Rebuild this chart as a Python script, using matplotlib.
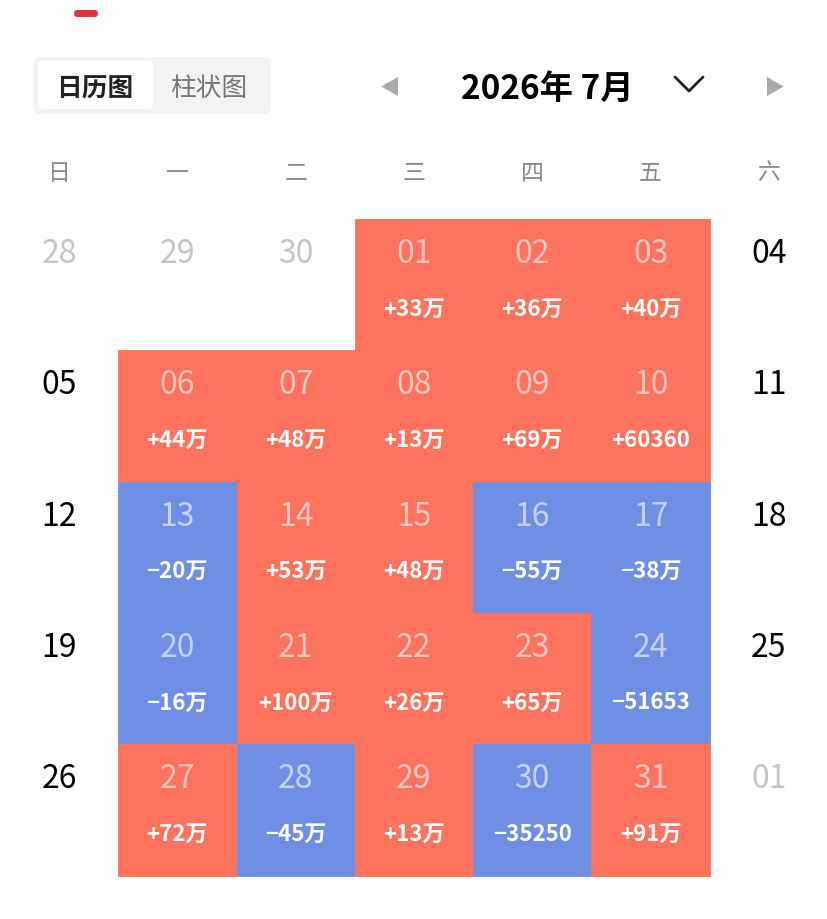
import calendar
import matplotlib.pyplot as plt
from matplotlib.patches import Rectangle, FancyBboxPatch

plt.rcParams['font.family'] = ['Noto Sans CJK SC', 'DejaVu Sans']

# ---------------------------- DATOS ----------------------------
year, month = 2026, 7
weekdays = ['日', '一', '二', '三', '四', '五', '六']
title = '2026年 7月'
tabs = ['日历图', '柱状图']
# valor diario (None = sin dato, fin de semana)
values = [330000, 360000, 400000, None, None,
          440000, 480000, 130000, 690000, 60360, None,
          None, -200000, 530000, 480000, -550000, -380000, None,
          None, -160000, 1000000, 260000, 650000, -51653, None,
          None, 720000, -450000, 130000, -35250, 910000]

RED = '#fe735e'
BLUE = '#6e8fe3'


def fmt(v):
    s = '+' if v > 0 else '\u2212'
    a = abs(v)
    if a >= 100000:
        return s + '%d万' % round(a / 10000)
    return s + '%d' % a


fig = plt.figure(figsize=(8.28, 9.2), dpi=100)
ax = fig.add_axes([0, 0, 1, 1])
ax.set_xlim(0, 828)
ax.set_ylim(920, 0)
ax.axis('off')

# ---------------------------- CABECERA ----------------------------
ax.add_patch(FancyBboxPatch((74, 11), 24, 7, boxstyle='round,pad=0,rounding_size=3.5',
                            fc='#e0353b', ec='none'))
ax.add_patch(FancyBboxPatch((33, 58), 238, 57, boxstyle='round,pad=0,rounding_size=7',
                            fc='#f3f3f3', ec='none'))
ax.add_patch(FancyBboxPatch((38, 62), 115, 48, boxstyle='round,pad=0,rounding_size=5',
                            fc='white', ec='none'))
ax.text(95, 89, tabs[0], ha='center', va='center', fontsize=18.5, fontweight='bold', color='#222222')
ax.text(209, 89, tabs[1], ha='center', va='center', fontsize=18.5, color='#777777')

ax.plot([392], [87], marker=(3, 0, 90), markersize=16, color='#aaaaaa', mec='none')
ax.plot([772], [87], marker=(3, 0, -90), markersize=16, color='#aaaaaa', mec='none')
ax.text(547, 89, title, ha='center', va='center', fontsize=24, fontweight='bold', color='black')
ax.plot([675, 689, 703], [78, 92, 78], color='#222222', lw=2.0, solid_capstyle='round')

# ---------------------------- CALENDARIO ----------------------------
cw = 828 / 7
ch = 131.3
top = 220

for i, d in enumerate(weekdays):
    ax.text(cw * (i + 0.5), 173, d, ha='center', va='center', fontsize=16.5, color='#8a8a8a')

weeks = calendar.Calendar(firstweekday=6).monthdayscalendar(year, month)
prev_days = calendar.monthrange(year, month - 1)[1]

for r, week in enumerate(weeks):
    lead = week.count(0) if r == 0 else 0
    for c, day in enumerate(week):
        xc = cw * (c + 0.5)
        y0 = top + r * ch
        if day == 0:
            if r == 0:
                d = prev_days - lead + 1 + c
            else:
                d = c - week.index(0) + 1
            ax.text(xc, y0 + 34, '%02d' % d, ha='center', va='center', fontsize=23, color='#c4c4c4')
            continue
        v = values[day - 1]
        if v is None:
            ax.text(xc, y0 + 34, '%02d' % day, ha='center', va='center', fontsize=23, color='black')
            continue
        col = RED if v > 0 else BLUE
        ax.add_patch(Rectangle((cw * c, y0), cw, ch, fc=col, ec=col, lw=0.6))
        ax.text(xc, y0 + 34, '%02d' % day, ha='center', va='center', fontsize=23,
                color='white', alpha=0.6)
        ax.text(xc, y0 + 89, fmt(v), ha='center', va='center', fontsize=16,
                fontweight='bold', color='white')

fig.savefig('out.png', dpi=100)
